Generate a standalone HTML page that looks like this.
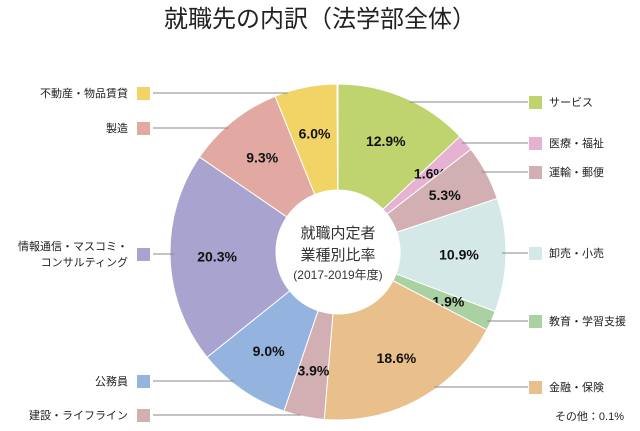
<!DOCTYPE html>
<html><head><meta charset="utf-8"><style>
body{margin:0;background:#fff;}
svg text{font-family:"Liberation Sans","Noto Sans CJK JP",sans-serif;}
</style></head><body>
<svg width="640" height="426" viewBox="0 0 640 426">
<text x="320" y="27" font-size="24" text-anchor="middle" fill="#222">就職先の内訳（法学部全体）</text>
<g id="slices"></g>
<g id="legend"></g>
<text x="338" y="238" font-size="15" text-anchor="middle" fill="#333">就職内定者</text>
<text x="338" y="260" font-size="15" text-anchor="middle" fill="#333">業種別比率</text>
<text x="338" y="279" font-size="12" text-anchor="middle" fill="#333">(2017-2019年度)</text>
<text x="624" y="420" font-size="11" text-anchor="end" fill="#222">その他：0.1%</text>
</svg>
<script>
const categories=["サービス","医療・福祉","運輸・郵便","卸売・小売","教育・学習支援","金融・保険","建設・ライフライン","公務員","情報通信・マスコミ・コンサルティング","製造","不動産・物品賃貸"];
const values=[12.9,1.6,5.3,10.9,1.9,18.6,3.9,9.0,20.3,9.3,6.0];
const colors=["#bfd46e","#e5b2d1","#d2afb3","#d5e8e8","#a9d1a2","#e9bf8c","#d2afb3","#94b3df","#a9a3cf","#e2a9a3","#f2d466"];
const legendSide=["R","R","R","R","R","R","L","L","L","L","L"];
const legendY=[102,143,172,253,321,387,415,381,254,128,93];
const cx=338,cy=252,R=168,r=62;
const ns="http://www.w3.org/2000/svg";
const total=values.reduce((a,b)=>a+b,0)+0.1;
function pt(a,rad){return [cx+rad*Math.sin(a),cy-rad*Math.cos(a)];}
const gs=document.getElementById('slices'),gl=document.getElementById('legend');
let acc=0;
values.forEach((v,i)=>{
 const a0=acc/total*2*Math.PI;acc+=v;const a1=acc/total*2*Math.PI;
 const lg=(a1-a0)>Math.PI?1:0;
 const p0=pt(a0,R),p1=pt(a1,R),q1=pt(a1,r),q0=pt(a0,r);
 const p=document.createElementNS(ns,'path');
 p.setAttribute('d',`M${p0} A${R},${R} 0 ${lg} 1 ${p1} L${q1} A${r},${r} 0 ${lg} 0 ${q0}Z`);
 p.setAttribute('fill',colors[i]);p.setAttribute('stroke','#fff');p.setAttribute('stroke-width','1');
 
 
 gs.appendChild(p);
 const am=(a0+a1)/2;const lp=pt(am,(R+r)/2+6);
 const t=document.createElementNS(ns,'text');
 t.setAttribute('x',lp[0]);t.setAttribute('y',lp[1]+5);t.setAttribute('text-anchor','middle');
 t.setAttribute('font-size','14');t.setAttribute('font-weight','bold');t.setAttribute('fill','#111');
 t.textContent=v.toFixed(1)+'%';
 
 
 gs.appendChild(t);
 // leader line
 const y=legendY[i];const dy=y-cy;
 let ex=Math.sqrt(Math.max(0,R*R-dy*dy));
 const side=legendSide[i];
 const edgeX=side==='R'?cx+ex-4:cx-ex+4;
 const ln=document.createElementNS(ns,'line');
 if(side==='R'){ln.setAttribute('x1',edgeX);ln.setAttribute('x2',528);}else{ln.setAttribute('x1',153);ln.setAttribute('x2',edgeX);}
 ln.setAttribute('y1',y);ln.setAttribute('y2',y);ln.setAttribute('stroke','#888');ln.setAttribute('stroke-width','1');
 
 
 gl.appendChild(ln);
 const sq=document.createElementNS(ns,'rect');
 sq.setAttribute('x',side==='R'?529:137);sq.setAttribute('y',y-6);sq.setAttribute('width',13);sq.setAttribute('height',13);sq.setAttribute('fill',colors[i]);
 
 
 gl.appendChild(sq);
 const name=categories[i];
 const lines=name==="情報通信・マスコミ・コンサルティング"?["情報通信・マスコミ・","コンサルティング"]:[name];
 lines.forEach((s,k)=>{
  const tt=document.createElementNS(ns,'text');
  const yy=y+4+(lines.length>1?(k===0?-8:8):0);
  tt.setAttribute('x',side==='R'?549:128);tt.setAttribute('y',yy);
  tt.setAttribute('text-anchor',side==='R'?'start':'end');
  tt.setAttribute('font-size','11');tt.setAttribute('fill','#222');
  tt.textContent=s;
  
  
  gl.appendChild(tt);
 });
});
const hole=document.createElementNS(ns,'circle');
hole.setAttribute('cx',cx);hole.setAttribute('cy',cy);hole.setAttribute('r',r);hole.setAttribute('fill','#fff');


gs.appendChild(hole);
</script>
</body></html>
